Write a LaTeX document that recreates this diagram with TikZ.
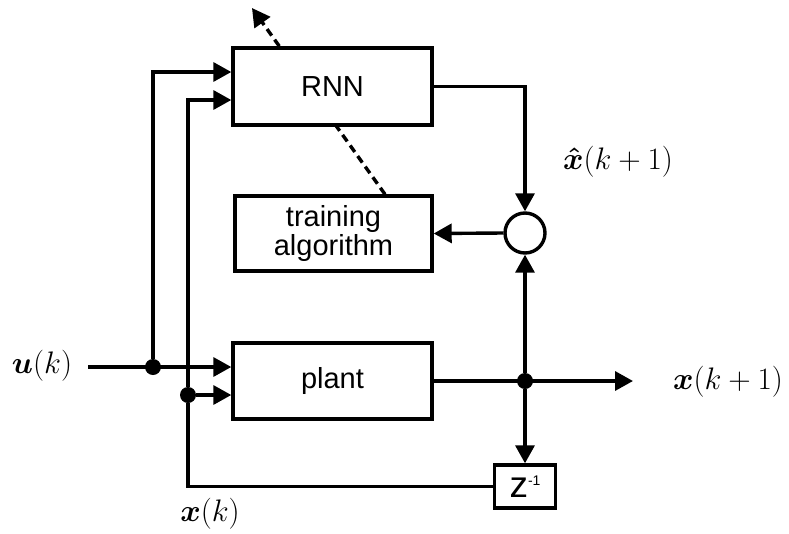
\RequirePackage{fix-cm}
\documentclass[tikz,border=0pt]{standalone}
\usepackage{graphicx}
\usepackage{amsmath}
\usepackage{bm}
\usepackage[no-math]{fontspec}
\setmainfont{Liberation Sans}
\usetikzlibrary{arrows.meta,backgrounds}
\newcommand{\biglabel}[1]{\scalebox{1.8}{$#1$}}
\tikzset{
  blk/.style={draw, line width=3.4pt, fill=white, inner sep=0pt, align=center,
    font=\fontsize{29}{29}\selectfont},
  wire/.style={line width=3.4pt},
  arr/.style={wire, -{Triangle[length=18pt,width=19pt]}},
  dashedarr/.style={line width=3.4pt, dash pattern=on 8pt off 5pt,
    -{Triangle[length=18pt,width=19pt]}},
  junction/.style={circle, fill=black, inner sep=0pt, minimum size=16pt},
  mlabel/.style={inner sep=0pt, font=\fontsize{17.28}{20}\selectfont},
}
\begin{document}
\begin{tikzpicture}[x=1pt,y=-1pt]
\useasboundingbox (0,0) rectangle (789,533);
% blocks
\node[blk, minimum width=199pt, minimum height=77pt] (rnn) at (332.5,86.5) {RNN};
\node[blk, minimum width=197pt, minimum height=75pt] (train) at (333.5,233.5) {training\\algorithm};
\node[blk, minimum width=199pt, minimum height=76pt] (plant) at (332.5,381) {plant};
\node[draw, circle, line width=3.4pt, fill=white, minimum size=40pt, inner sep=0pt] (sum) at (525,233) {};
\node[draw, line width=3.4pt, fill=white, minimum width=61pt, minimum height=43pt, inner sep=0pt] (zd) at (525,486.5)
  {{\fontsize{37}{37}\selectfont z}\raisebox{12pt}{\fontsize{14}{14}\selectfont -1}};
% junctions and free ends
\node[junction] (udot) at (153,367) {};
\node[junction] (xdot) at (188,395) {};
\node[junction] (ydot) at (525,381) {};
\coordinate (uin) at (88,367);
\coordinate (yout) at (633,381);
\coordinate (dtip) at (252,8);
% labels
\node[mlabel] (ul) at (42,366) {\biglabel{\bm{u}(k)}};
\node[mlabel] (xl) at (210,514) {\biglabel{\bm{x}(k)}};
\node[mlabel] (yl) at (728,382) {\biglabel{\bm{x}(k+1)}};
\node[mlabel] (hl) at (618,162) {\biglabel{\bm{\hat{x}}(k+1)}};
% dashed adaptation arrow (behind blocks)
\begin{scope}[on background layer]
\draw[dashedarr] ([xshift=51.5pt]train.north) -- (dtip);
\end{scope}
% connectors
\draw[arr] (uin) -- ([yshift=14pt]plant.west);
\draw[arr] (udot) |- ([yshift=14.5pt]rnn.west);
\draw[arr] (zd.west) -| (xdot) |- ([yshift=-13.5pt]rnn.west);
\draw[arr] (xdot) -- ([yshift=-14pt]plant.west);
\draw[arr] (plant.east) -- (yout);
\draw[arr] (ydot) -- (sum.south);
\draw[arr] (ydot) -- (zd.north);
\draw[arr] (rnn.east) -| (sum.north);
\draw[arr] (sum.west) -- (train.east);
\end{tikzpicture}
\end{document}
